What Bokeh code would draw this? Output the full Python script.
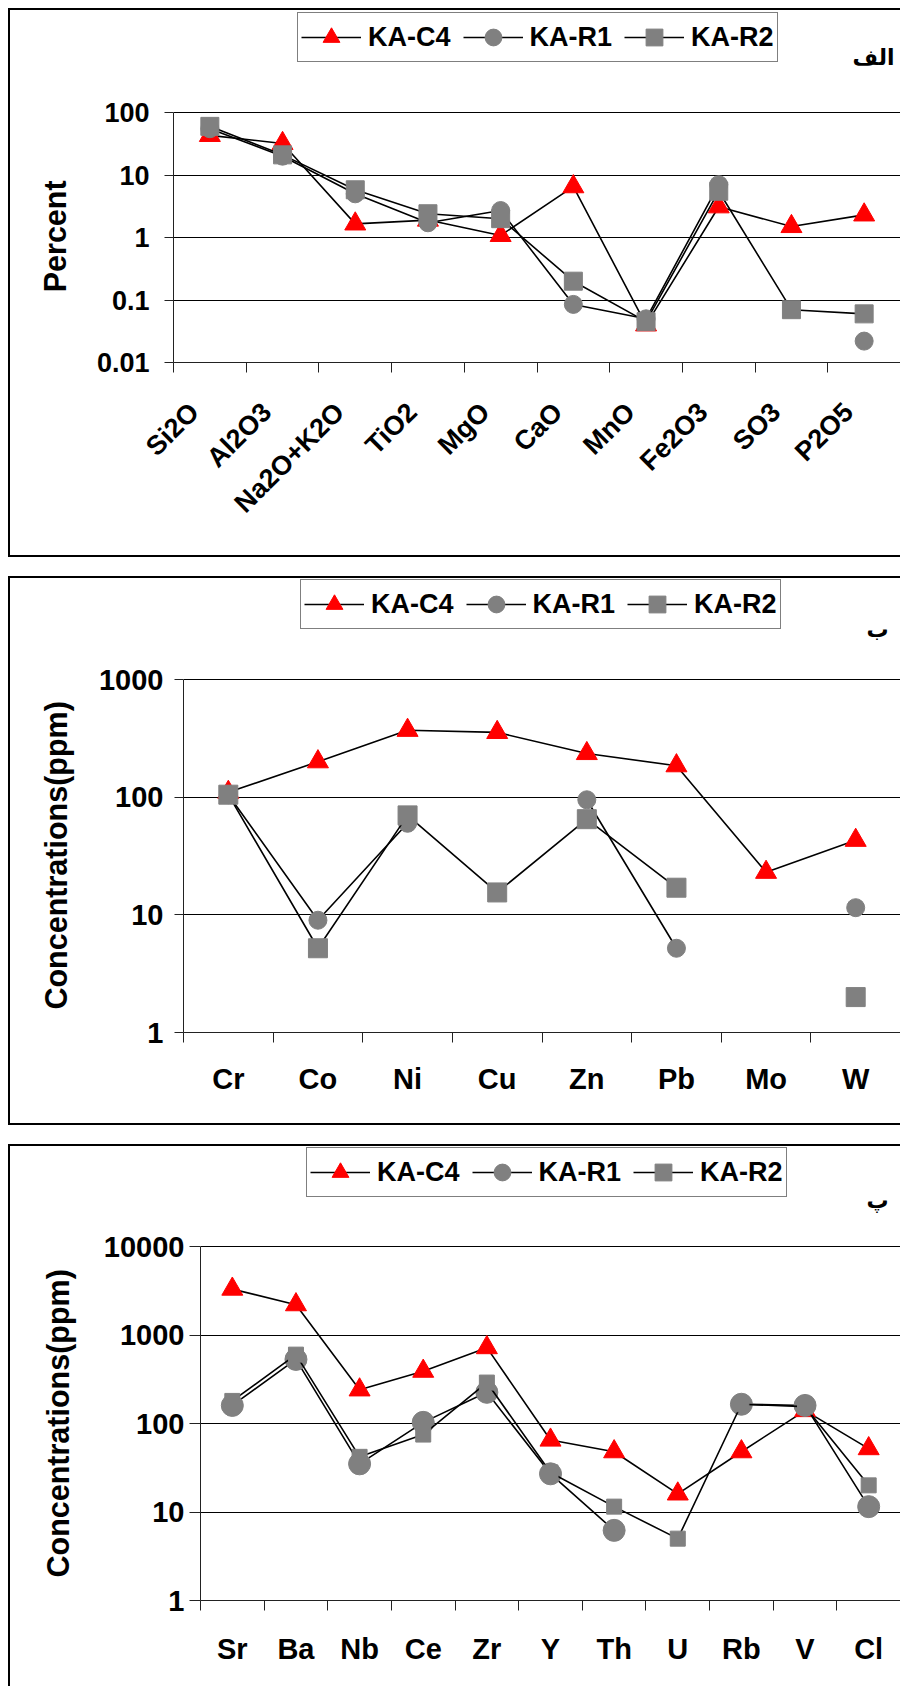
import math
import numpy as np
from bokeh.plotting import figure
from bokeh.models import (ColumnDataSource, FixedTicker, Legend, LegendItem,
                          Label, Range1d)
from bokeh.embed import file_html
from bokeh.resources import INLINE

nan = float("nan")

series_names = ["KA-C4", "KA-R1", "KA-R2"]

# Panel "الف" : major oxides (Percent)
oxides = ["Si2O", "Al2O3", "Na2O+K2O", "TiO2", "MgO", "CaO", "MnO", "Fe2O3", "SO3", "P2O5"]
ox_c4 = [43, 32, 1.65, 1.9, 1.08, 6.5, 0.04, 3.1, 1.5, 2.3]
ox_r1 = [55, 20, 5.0, 1.72, 2.7, 0.085, 0.05, 7.0, nan, 0.022]
ox_r2 = [60, 21, 5.8, 2.4, 2.0, 0.2, 0.045, 5.5, 0.07, 0.06]
ox_yticks = [0.01, 0.1, 1, 10, 100]
ox_ylabels = ["0.01", "0.1", "1", "10", "100"]

# Panel "ب" : metals (ppm)
metals = ["Cr", "Co", "Ni", "Cu", "Zn", "Pb", "Mo", "W"]
mt_c4 = [110, 200, 370, 355, 235, 185, 23, 43]
mt_r1 = [105, 9, 60, nan, 95, 5.2, nan, 11.5]
mt_r2 = [105, 5.2, 70, 15.5, 65, 17, nan, 2.0]
mt_yticks = [1, 10, 100, 1000]
mt_ylabels = ["1", "10", "100", "1000"]

# Panel "پ" : trace elements (ppm)
trace = ["Sr", "Ba", "Nb", "Ce", "Zr", "Y", "Th", "U", "Rb", "V", "Cl"]
tr_c4 = [3300, 2200, 240, 390, 720, 65, 48, 16, 48, 140, 52]
tr_r1 = [160, 530, 35, 103, 225, 27, 6.2, nan, 165, 160, 11.5]
tr_r2 = [180, 600, 42, 75, 290, 28, 11.5, 5, 165, 155, 20]
tr_yticks = [1, 10, 100, 1000, 10000]
tr_ylabels = ["1", "10", "100", "1000", "10000"]

FONT = "Liberation Sans"
markers = ["triangle", "circle", "square"]
colors = ["#FF0000", "#808080", "#808080"]


def make_panel(cats, vals, ylo, yhi, yticks, ylabels, ytitle, tag, *, height,
               mb_left, mb_bottom, head_px, plot_px, rotate, sizes,
               ytick_font, ytick_out, ytick_standoff, ytitle_standoff,
               ytitle_pad, xlabel_font, xlabel_standoff, xlabel_shift,
               legend_loc, tag_loc, margin_top, bottom_border=True):
    n = len(cats)
    xs = [float(v) for v in np.arange(n) + 0.5]
    decades = math.log10(yhi / ylo)
    # head room above the top gridline keeps legend and tag inside the frame
    y_view_top = yhi * 10 ** (head_px * decades / plot_px)
    p = figure(width=892, height=height, x_range=Range1d(0, n),
               y_range=Range1d(ylo, y_view_top), y_axis_type="log",
               output_backend="svg", toolbar_location=None,
               min_border_left=mb_left, min_border_right=0,
               min_border_top=0, min_border_bottom=mb_bottom)
    p.outline_line_color = None
    p.background_fill_color = None
    p.border_fill_color = None

    items = []
    for name, v, mk, col, sz in zip(series_names, vals, markers, colors, sizes):
        src = ColumnDataSource(dict(x=xs, y=np.array(v, dtype=float)))
        lr = p.line("x", "y", source=src, line_color="black", line_width=1.6)
        sr = p.scatter("x", "y", source=src, marker=mk, size=sz,
                       fill_color=col, line_color=col)
        items.append(LegendItem(label=name, renderers=[lr, sr]))

    legend = Legend(items=items, orientation="horizontal", location=legend_loc,
                    margin=0, padding=3, spacing=12, glyph_width=60,
                    glyph_height=42, label_standoff=7, label_height=30,
                    label_text_font=FONT, label_text_font_style="bold",
                    label_text_font_size="27px", label_text_color="black",
                    border_line_color="black", border_line_width=1.5,
                    background_fill_color="white", background_fill_alpha=1)
    p.add_layout(legend)

    # y axis
    yax = p.yaxis[0]
    yax.ticker = FixedTicker(ticks=yticks, minor_ticks=[])
    yax.bounds = (ylo, yhi)
    yax.major_label_overrides = dict(zip(yticks, ylabels))
    yax.major_tick_out = ytick_out
    yax.major_tick_in = 0
    yax.major_tick_line_color = "#222222"
    yax.major_label_standoff = ytick_standoff
    yax.axis_line_color = "#222222"
    yax.major_label_text_font = FONT
    yax.major_label_text_font_style = "bold"
    yax.major_label_text_font_size = ytick_font
    yax.major_label_text_color = "black"
    # trailing no-break spaces centre the title on the data area, not the frame
    yax.axis_label = ytitle + "\u00a0" * ytitle_pad
    yax.axis_label_text_font = FONT
    yax.axis_label_text_font_style = "bold"
    yax.axis_label_text_font_size = "30.5px"
    yax.axis_label_text_color = "black"
    yax.axis_label_standoff = ytitle_standoff

    # x axis: labels near category centres, ticks at category boundaries
    lab_pos = [x + xlabel_shift for x in xs]
    xax = p.xaxis[0]
    xax.ticker = FixedTicker(ticks=lab_pos, minor_ticks=list(range(n + 1)))
    xax.major_label_overrides = dict(zip(lab_pos, cats))
    xax.major_tick_line_color = None
    xax.major_tick_out = 10
    xax.major_tick_in = 0
    xax.minor_tick_line_color = "#222222"
    xax.minor_tick_out = 10
    xax.minor_tick_in = 0
    xax.axis_line_color = "#222222"
    xax.major_label_standoff = xlabel_standoff
    xax.major_label_text_font = FONT
    xax.major_label_text_font_style = "bold"
    xax.major_label_text_font_size = xlabel_font
    xax.major_label_text_color = "black"
    if rotate:
        xax.major_label_orientation = math.pi / 4

    p.xgrid.visible = False
    p.ygrid.grid_line_color = "black"
    p.ygrid.grid_line_width = 1

    p.add_layout(Label(x=tag_loc[0], y=tag_loc[1], x_units="screen",
                       y_units="screen", text=tag, text_font="DejaVu Sans",
                       text_font_style="bold", text_font_size="22px",
                       text_align="left", text_baseline="alphabetic",
                       text_color="black"))

    shadow = "inset 2px 2px 0 0 #000000"
    if bottom_border:
        shadow += ", inset 0 -2px 0 0 #000000"
    p.styles = {"box-shadow": shadow, "background-color": "white",
                "margin-left": "8px", "margin-top": margin_top}
    return p


p1 = make_panel(oxides, [ox_c4, ox_r1, ox_r2], 0.01, 100, ox_yticks, ox_ylabels,
                "Percent", "الف", height=549, mb_left=165, mb_bottom=195,
                head_px=104, plot_px=250, rotate=True, sizes=[21, 18, 18],
                ytick_font="27px", ytick_out=9, ytick_standoff=15,
                ytitle_standoff=22, ytitle_pad=12, xlabel_font="27px",
                xlabel_standoff=35, xlabel_shift=-0.216,
                legend_loc=(124, 300), tag_loc=(679, 305), margin_top="8px")
p2 = make_panel(metals, [mt_c4, mt_r1, mt_r2], 1, 1000, mt_yticks, mt_ylabels,
                "Concentrations(ppm)", "ب", height=549, mb_left=175,
                mb_bottom=93, head_px=103, plot_px=353, rotate=False,
                sizes=[21, 18, 19], ytick_font="29px", ytick_out=9,
                ytick_standoff=11, ytitle_standoff=23, ytitle_pad=12,
                xlabel_font="29px", xlabel_standoff=20, xlabel_shift=0.0,
                legend_loc=(117, 403), tag_loc=(683, 403), margin_top="19px")
p3 = make_panel(trace, [tr_c4, tr_r1, tr_r2], 1, 10000, tr_yticks, tr_ylabels,
                "Concentrations(ppm)", "پ", height=542, mb_left=192,
                mb_bottom=86, head_px=102, plot_px=354, rotate=False,
                sizes=[21, 22, 15], ytick_font="29px", ytick_out=11,
                ytick_standoff=5, ytitle_standoff=26, ytitle_pad=12,
                xlabel_font="29px", xlabel_standoff=22, xlabel_shift=0.0,
                legend_loc=(106, 403), tag_loc=(666, 400), margin_top="19px",
                bottom_border=False)

open("out.html", "w").write(file_html([p1, p2, p3], INLINE))
